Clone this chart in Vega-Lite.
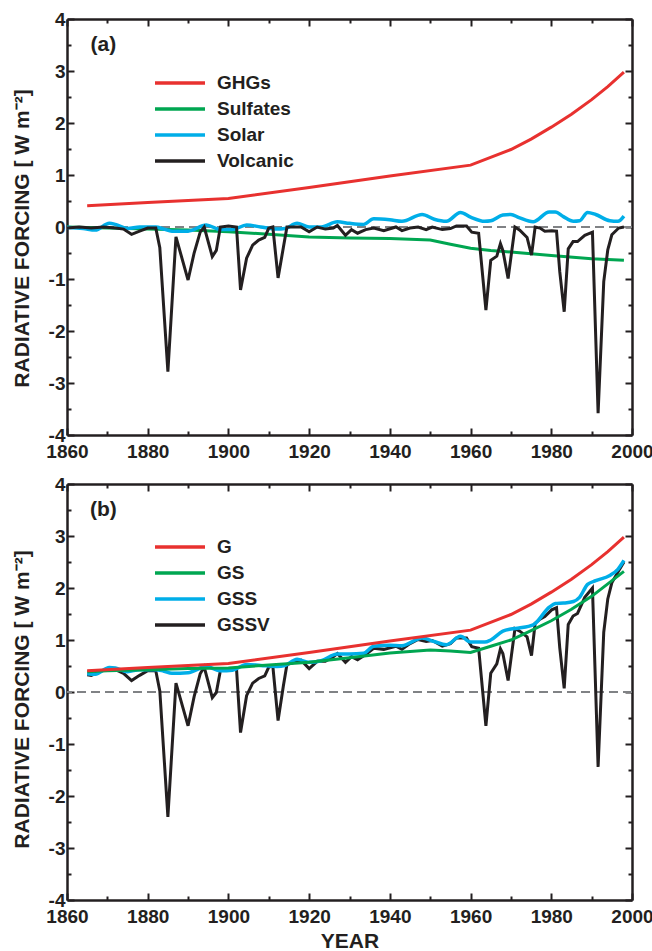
{
  "$schema": "https://vega.github.io/schema/vega-lite/v6.json",
  "padding": {"left": 11, "top": 10, "right": 5, "bottom": 5},
  "background": "white",
  "bounds": "flush",
  "spacing": 49,
  "config": {
    "view": {"stroke": null},
    "axis": {
      "domainColor": "#231f20", "domainWidth": 2.5, "tickColor": "#231f20", "tickWidth": 2,
      "labelFont": "Liberation Sans", "labelFontWeight": "bold", "labelFontSize": 19, "labelColor": "#231f20",
      "titleFont": "Liberation Sans", "titleFontWeight": "bold", "titleFontSize": 21, "titleColor": "#231f20",
      "grid": false, "labelOverlap": false, "labelBound": false, "labelFlush": false
    },
    "legend": {
      "labelFont": "Liberation Sans", "labelFontWeight": "bold", "labelFontSize": 19, "labelColor": "#231f20",
      "symbolType": "M-2.5,0L2.5,0", "symbolSize": 400, "symbolStrokeWidth": 3.5, "labelOffset": 25, "rowPadding": 4, "padding": 0
    },
    "text": {"font": "Liberation Sans", "fontWeight": "bold", "color": "#231f20"}
  },
  "resolve": {"scale": {"color": "independent"}, "legend": {"color": "independent"}},
  "datasets": {
    "ghg": [
      {"year": 1865, "value": 0.41, "series": "GHGs"}, {"year": 1880, "value": 0.47, "series": "GHGs"},
      {"year": 1900, "value": 0.55, "series": "GHGs"}, {"year": 1920, "value": 0.76, "series": "GHGs"},
      {"year": 1940, "value": 0.98, "series": "GHGs"}, {"year": 1960, "value": 1.19, "series": "GHGs"},
      {"year": 1970, "value": 1.49, "series": "GHGs"}, {"year": 1975, "value": 1.69, "series": "GHGs"},
      {"year": 1980, "value": 1.92, "series": "GHGs"}, {"year": 1985, "value": 2.17, "series": "GHGs"},
      {"year": 1990, "value": 2.45, "series": "GHGs"}, {"year": 1994, "value": 2.70, "series": "GHGs"},
      {"year": 1998, "value": 2.98, "series": "GHGs"}
    ],
    "sul": [
      {"year": 1860, "value": 0.0, "series": "Sulfates"}, {"year": 1870, "value": -0.02, "series": "Sulfates"},
      {"year": 1880, "value": -0.04, "series": "Sulfates"}, {"year": 1890, "value": -0.06, "series": "Sulfates"},
      {"year": 1900, "value": -0.09, "series": "Sulfates"}, {"year": 1910, "value": -0.14, "series": "Sulfates"},
      {"year": 1920, "value": -0.19, "series": "Sulfates"}, {"year": 1930, "value": -0.21, "series": "Sulfates"},
      {"year": 1940, "value": -0.22, "series": "Sulfates"}, {"year": 1950, "value": -0.25, "series": "Sulfates"},
      {"year": 1955, "value": -0.33, "series": "Sulfates"}, {"year": 1960, "value": -0.41, "series": "Sulfates"},
      {"year": 1965, "value": -0.45, "series": "Sulfates"}, {"year": 1970, "value": -0.48, "series": "Sulfates"},
      {"year": 1980, "value": -0.55, "series": "Sulfates"}, {"year": 1990, "value": -0.61, "series": "Sulfates"},
      {"year": 1998, "value": -0.64, "series": "Sulfates"}
    ],
    "sol": [
      {"year": 1860, "value": -0.01, "series": "Solar"}, {"year": 1864, "value": -0.03, "series": "Solar"},
      {"year": 1867, "value": -0.06, "series": "Solar"}, {"year": 1870.5, "value": 0.07, "series": "Solar"},
      {"year": 1872, "value": 0.05, "series": "Solar"}, {"year": 1875, "value": -0.03, "series": "Solar"},
      {"year": 1878, "value": 0.0, "series": "Solar"}, {"year": 1880, "value": 0.0, "series": "Solar"},
      {"year": 1882, "value": 0.0, "series": "Solar"}, {"year": 1884, "value": -0.04, "series": "Solar"},
      {"year": 1886, "value": -0.08, "series": "Solar"}, {"year": 1890, "value": -0.08, "series": "Solar"},
      {"year": 1894.5, "value": 0.04, "series": "Solar"}, {"year": 1898, "value": -0.05, "series": "Solar"},
      {"year": 1901, "value": -0.05, "series": "Solar"}, {"year": 1904.5, "value": 0.04, "series": "Solar"},
      {"year": 1908, "value": 0.0, "series": "Solar"}, {"year": 1912, "value": -0.04, "series": "Solar"},
      {"year": 1914, "value": -0.03, "series": "Solar"}, {"year": 1917, "value": 0.07, "series": "Solar"},
      {"year": 1920, "value": 0.0, "series": "Solar"}, {"year": 1923, "value": 0.0, "series": "Solar"},
      {"year": 1927, "value": 0.1, "series": "Solar"}, {"year": 1930, "value": 0.07, "series": "Solar"},
      {"year": 1933.5, "value": 0.05, "series": "Solar"}, {"year": 1936, "value": 0.16, "series": "Solar"},
      {"year": 1940, "value": 0.14, "series": "Solar"}, {"year": 1943, "value": 0.11, "series": "Solar"},
      {"year": 1948, "value": 0.24, "series": "Solar"}, {"year": 1951, "value": 0.15, "series": "Solar"},
      {"year": 1954, "value": 0.11, "series": "Solar"}, {"year": 1957.5, "value": 0.28, "series": "Solar"},
      {"year": 1960, "value": 0.19, "series": "Solar"}, {"year": 1963.5, "value": 0.11, "series": "Solar"},
      {"year": 1965, "value": 0.12, "series": "Solar"}, {"year": 1968, "value": 0.23, "series": "Solar"},
      {"year": 1970, "value": 0.24, "series": "Solar"}, {"year": 1972, "value": 0.18, "series": "Solar"},
      {"year": 1975.5, "value": 0.10, "series": "Solar"}, {"year": 1979.5, "value": 0.29, "series": "Solar"},
      {"year": 1981, "value": 0.29, "series": "Solar"}, {"year": 1983, "value": 0.20, "series": "Solar"},
      {"year": 1985.5, "value": 0.11, "series": "Solar"}, {"year": 1987, "value": 0.12, "series": "Solar"},
      {"year": 1989, "value": 0.28, "series": "Solar"}, {"year": 1991, "value": 0.24, "series": "Solar"},
      {"year": 1994.5, "value": 0.12, "series": "Solar"}, {"year": 1996.5, "value": 0.11, "series": "Solar"},
      {"year": 1998, "value": 0.21, "series": "Solar"}
    ],
    "vol": [
      {"year": 1860, "value": -0.02, "series": "Volcanic"}, {"year": 1863, "value": 0, "series": "Volcanic"},
      {"year": 1866, "value": -0.02, "series": "Volcanic"}, {"year": 1869, "value": 0, "series": "Volcanic"},
      {"year": 1872, "value": -0.02, "series": "Volcanic"}, {"year": 1874, "value": -0.04, "series": "Volcanic"},
      {"year": 1876, "value": -0.14, "series": "Volcanic"}, {"year": 1878, "value": -0.08, "series": "Volcanic"},
      {"year": 1880, "value": -0.02, "series": "Volcanic"}, {"year": 1882, "value": -0.02, "series": "Volcanic"},
      {"year": 1883, "value": -0.4, "series": "Volcanic"}, {"year": 1885, "value": -2.78, "series": "Volcanic"},
      {"year": 1887, "value": -0.19, "series": "Volcanic"}, {"year": 1890, "value": -1.02, "series": "Volcanic"},
      {"year": 1891.5, "value": -0.5, "series": "Volcanic"}, {"year": 1893, "value": -0.1, "series": "Volcanic"},
      {"year": 1894, "value": 0, "series": "Volcanic"}, {"year": 1896, "value": -0.57, "series": "Volcanic"},
      {"year": 1897, "value": -0.45, "series": "Volcanic"}, {"year": 1898, "value": 0, "series": "Volcanic"},
      {"year": 1900, "value": 0.02, "series": "Volcanic"}, {"year": 1902, "value": 0, "series": "Volcanic"},
      {"year": 1903, "value": -1.21, "series": "Volcanic"}, {"year": 1904.5, "value": -0.6, "series": "Volcanic"},
      {"year": 1906, "value": -0.35, "series": "Volcanic"}, {"year": 1907.5, "value": -0.25, "series": "Volcanic"},
      {"year": 1909, "value": -0.2, "series": "Volcanic"}, {"year": 1910, "value": -0.02, "series": "Volcanic"},
      {"year": 1911, "value": 0, "series": "Volcanic"}, {"year": 1912.3, "value": -0.98, "series": "Volcanic"},
      {"year": 1913.6, "value": -0.4, "series": "Volcanic"}, {"year": 1914.5, "value": 0, "series": "Volcanic"},
      {"year": 1918, "value": 0, "series": "Volcanic"}, {"year": 1920, "value": -0.09, "series": "Volcanic"},
      {"year": 1922, "value": 0, "series": "Volcanic"}, {"year": 1924, "value": -0.04, "series": "Volcanic"},
      {"year": 1926, "value": -0.02, "series": "Volcanic"}, {"year": 1927, "value": 0.03, "series": "Volcanic"},
      {"year": 1929, "value": -0.16, "series": "Volcanic"}, {"year": 1930.5, "value": -0.05, "series": "Volcanic"},
      {"year": 1932, "value": -0.12, "series": "Volcanic"}, {"year": 1934, "value": -0.05, "series": "Volcanic"},
      {"year": 1936, "value": -0.02, "series": "Volcanic"}, {"year": 1938.5, "value": -0.07, "series": "Volcanic"},
      {"year": 1941.5, "value": 0, "series": "Volcanic"}, {"year": 1943, "value": -0.07, "series": "Volcanic"},
      {"year": 1945, "value": -0.02, "series": "Volcanic"}, {"year": 1947, "value": 0, "series": "Volcanic"},
      {"year": 1949, "value": -0.05, "series": "Volcanic"}, {"year": 1950.5, "value": 0, "series": "Volcanic"},
      {"year": 1953, "value": -0.05, "series": "Volcanic"}, {"year": 1955, "value": -0.03, "series": "Volcanic"},
      {"year": 1956.5, "value": 0.02, "series": "Volcanic"}, {"year": 1959, "value": 0.02, "series": "Volcanic"},
      {"year": 1960.3, "value": -0.1, "series": "Volcanic"}, {"year": 1962, "value": -0.12, "series": "Volcanic"},
      {"year": 1963.8, "value": -1.6, "series": "Volcanic"}, {"year": 1965, "value": -0.64, "series": "Volcanic"},
      {"year": 1966.5, "value": -0.56, "series": "Volcanic"}, {"year": 1967.4, "value": -0.32, "series": "Volcanic"},
      {"year": 1968, "value": -0.45, "series": "Volcanic"}, {"year": 1969.3, "value": -0.99, "series": "Volcanic"},
      {"year": 1971, "value": 0, "series": "Volcanic"}, {"year": 1972.2, "value": -0.06, "series": "Volcanic"},
      {"year": 1974, "value": -0.2, "series": "Volcanic"}, {"year": 1975.1, "value": -0.54, "series": "Volcanic"},
      {"year": 1976, "value": 0, "series": "Volcanic"}, {"year": 1977.2, "value": -0.02, "series": "Volcanic"},
      {"year": 1978.4, "value": -0.08, "series": "Volcanic"}, {"year": 1980.1, "value": -0.07, "series": "Volcanic"},
      {"year": 1981.3, "value": -0.08, "series": "Volcanic"}, {"year": 1982.1, "value": -0.86, "series": "Volcanic"},
      {"year": 1983.2, "value": -1.63, "series": "Volcanic"}, {"year": 1984.2, "value": -0.42, "series": "Volcanic"},
      {"year": 1985.4, "value": -0.28, "series": "Volcanic"}, {"year": 1986.5, "value": -0.28, "series": "Volcanic"},
      {"year": 1988.3, "value": -0.16, "series": "Volcanic"}, {"year": 1990.2, "value": -0.1, "series": "Volcanic"},
      {"year": 1991.6, "value": -3.58, "series": "Volcanic"}, {"year": 1993, "value": -1.05, "series": "Volcanic"},
      {"year": 1994, "value": -0.44, "series": "Volcanic"}, {"year": 1995, "value": -0.15, "series": "Volcanic"},
      {"year": 1996.7, "value": -0.02, "series": "Volcanic"}, {"year": 1998, "value": 0, "series": "Volcanic"}
    ],
    "g": [
      {"year": 1865, "value": 0.41, "series": "G"}, {"year": 1880, "value": 0.47, "series": "G"},
      {"year": 1900, "value": 0.55, "series": "G"}, {"year": 1920, "value": 0.76, "series": "G"},
      {"year": 1940, "value": 0.98, "series": "G"}, {"year": 1960, "value": 1.19, "series": "G"},
      {"year": 1970, "value": 1.49, "series": "G"}, {"year": 1975, "value": 1.69, "series": "G"},
      {"year": 1980, "value": 1.92, "series": "G"}, {"year": 1985, "value": 2.17, "series": "G"},
      {"year": 1990, "value": 2.45, "series": "G"}, {"year": 1994, "value": 2.70, "series": "G"},
      {"year": 1998, "value": 2.98, "series": "G"}
    ],
    "gs": [
      {"year": 1865, "value": 0.39, "series": "GS"}, {"year": 1870, "value": 0.41, "series": "GS"},
      {"year": 1880, "value": 0.43, "series": "GS"}, {"year": 1890, "value": 0.45, "series": "GS"},
      {"year": 1900, "value": 0.46, "series": "GS"}, {"year": 1910, "value": 0.52, "series": "GS"},
      {"year": 1920, "value": 0.57, "series": "GS"}, {"year": 1930, "value": 0.66, "series": "GS"},
      {"year": 1940, "value": 0.75, "series": "GS"}, {"year": 1950, "value": 0.81, "series": "GS"},
      {"year": 1955, "value": 0.79, "series": "GS"}, {"year": 1960, "value": 0.76, "series": "GS"},
      {"year": 1965, "value": 0.88, "series": "GS"}, {"year": 1970, "value": 1.00, "series": "GS"},
      {"year": 1975, "value": 1.18, "series": "GS"}, {"year": 1980, "value": 1.37, "series": "GS"},
      {"year": 1985, "value": 1.59, "series": "GS"}, {"year": 1990, "value": 1.84, "series": "GS"},
      {"year": 1994, "value": 2.08, "series": "GS"}, {"year": 1998, "value": 2.32, "series": "GS"}
    ],
    "gss": [
      {"year": 1865, "value": 0.35, "series": "GSS"}, {"year": 1867, "value": 0.34, "series": "GSS"},
      {"year": 1870.5, "value": 0.47, "series": "GSS"}, {"year": 1872, "value": 0.46, "series": "GSS"},
      {"year": 1875, "value": 0.39, "series": "GSS"}, {"year": 1878, "value": 0.43, "series": "GSS"},
      {"year": 1880, "value": 0.43, "series": "GSS"}, {"year": 1882, "value": 0.43, "series": "GSS"},
      {"year": 1884, "value": 0.40, "series": "GSS"}, {"year": 1886, "value": 0.36, "series": "GSS"},
      {"year": 1890, "value": 0.37, "series": "GSS"}, {"year": 1894.5, "value": 0.49, "series": "GSS"},
      {"year": 1898, "value": 0.41, "series": "GSS"}, {"year": 1901, "value": 0.42, "series": "GSS"},
      {"year": 1904.5, "value": 0.53, "series": "GSS"}, {"year": 1908, "value": 0.51, "series": "GSS"},
      {"year": 1912, "value": 0.49, "series": "GSS"}, {"year": 1914, "value": 0.51, "series": "GSS"},
      {"year": 1917, "value": 0.63, "series": "GSS"}, {"year": 1920, "value": 0.57, "series": "GSS"},
      {"year": 1923, "value": 0.60, "series": "GSS"}, {"year": 1927, "value": 0.73, "series": "GSS"},
      {"year": 1930, "value": 0.73, "series": "GSS"}, {"year": 1933.5, "value": 0.745, "series": "GSS"},
      {"year": 1936, "value": 0.88, "series": "GSS"}, {"year": 1940, "value": 0.90, "series": "GSS"},
      {"year": 1943, "value": 0.89, "series": "GSS"}, {"year": 1948, "value": 1.04, "series": "GSS"},
      {"year": 1951, "value": 0.97, "series": "GSS"}, {"year": 1954, "value": 0.91, "series": "GSS"},
      {"year": 1957.5, "value": 1.07, "series": "GSS"}, {"year": 1960, "value": 0.96, "series": "GSS"},
      {"year": 1963.5, "value": 0.96, "series": "GSS"}, {"year": 1965, "value": 1.00, "series": "GSS"},
      {"year": 1968, "value": 1.17, "series": "GSS"}, {"year": 1970, "value": 1.21, "series": "GSS"},
      {"year": 1972, "value": 1.23, "series": "GSS"}, {"year": 1975.5, "value": 1.29, "series": "GSS"},
      {"year": 1979.5, "value": 1.63, "series": "GSS"}, {"year": 1981, "value": 1.70, "series": "GSS"},
      {"year": 1983, "value": 1.71, "series": "GSS"}, {"year": 1985.5, "value": 1.74, "series": "GSS"},
      {"year": 1987, "value": 1.82, "series": "GSS"}, {"year": 1989, "value": 2.07, "series": "GSS"},
      {"year": 1991, "value": 2.14, "series": "GSS"}, {"year": 1994.5, "value": 2.24, "series": "GSS"},
      {"year": 1996.5, "value": 2.36, "series": "GSS"}, {"year": 1998, "value": 2.53, "series": "GSS"}
    ],
    "gssv": [
      {"year": 1865, "value": 0.33, "series": "GSSV"}, {"year": 1866, "value": 0.32, "series": "GSSV"},
      {"year": 1869, "value": 0.42, "series": "GSSV"}, {"year": 1872, "value": 0.43, "series": "GSSV"},
      {"year": 1874, "value": 0.36, "series": "GSSV"}, {"year": 1876, "value": 0.22, "series": "GSSV"},
      {"year": 1878, "value": 0.32, "series": "GSSV"}, {"year": 1880, "value": 0.41, "series": "GSSV"},
      {"year": 1882, "value": 0.41, "series": "GSSV"}, {"year": 1883, "value": 0.02, "series": "GSSV"},
      {"year": 1885, "value": -2.40, "series": "GSSV"}, {"year": 1887, "value": 0.17, "series": "GSSV"},
      {"year": 1890, "value": -0.65, "series": "GSSV"}, {"year": 1891.5, "value": -0.09, "series": "GSSV"},
      {"year": 1893, "value": 0.35, "series": "GSSV"}, {"year": 1894, "value": 0.48, "series": "GSSV"},
      {"year": 1896, "value": -0.11, "series": "GSSV"}, {"year": 1897, "value": -0.01, "series": "GSSV"},
      {"year": 1898, "value": 0.41, "series": "GSSV"}, {"year": 1900, "value": 0.44, "series": "GSSV"},
      {"year": 1902, "value": 0.45, "series": "GSSV"}, {"year": 1903, "value": -0.78, "series": "GSSV"},
      {"year": 1904.5, "value": -0.07, "series": "GSSV"}, {"year": 1906, "value": 0.17, "series": "GSSV"},
      {"year": 1907.5, "value": 0.26, "series": "GSSV"}, {"year": 1909, "value": 0.31, "series": "GSSV"},
      {"year": 1910, "value": 0.48, "series": "GSSV"}, {"year": 1911, "value": 0.5, "series": "GSSV"},
      {"year": 1912.3, "value": -0.55, "series": "GSSV"}, {"year": 1913.6, "value": 0.11, "series": "GSSV"},
      {"year": 1914.5, "value": 0.53, "series": "GSSV"}, {"year": 1918, "value": 0.61, "series": "GSSV"},
      {"year": 1920, "value": 0.45, "series": "GSSV"}, {"year": 1922, "value": 0.59, "series": "GSSV"},
      {"year": 1924, "value": 0.59, "series": "GSSV"}, {"year": 1926, "value": 0.68, "series": "GSSV"},
      {"year": 1927, "value": 0.74, "series": "GSSV"}, {"year": 1929, "value": 0.57, "series": "GSSV"},
      {"year": 1930.5, "value": 0.68, "series": "GSSV"}, {"year": 1932, "value": 0.62, "series": "GSSV"},
      {"year": 1934, "value": 0.72, "series": "GSSV"}, {"year": 1936, "value": 0.84, "series": "GSSV"},
      {"year": 1938.5, "value": 0.82, "series": "GSSV"}, {"year": 1941.5, "value": 0.88, "series": "GSSV"},
      {"year": 1943, "value": 0.82, "series": "GSSV"}, {"year": 1945, "value": 0.93, "series": "GSSV"},
      {"year": 1947, "value": 1.01, "series": "GSSV"}, {"year": 1949, "value": 0.97, "series": "GSSV"},
      {"year": 1950.5, "value": 0.99, "series": "GSSV"}, {"year": 1953, "value": 0.88, "series": "GSSV"},
      {"year": 1955, "value": 0.93, "series": "GSSV"}, {"year": 1956.5, "value": 1.04, "series": "GSSV"},
      {"year": 1959, "value": 1.04, "series": "GSSV"}, {"year": 1960.3, "value": 0.87, "series": "GSSV"},
      {"year": 1962, "value": 0.84, "series": "GSSV"}, {"year": 1963.8, "value": -0.65, "series": "GSSV"},
      {"year": 1965, "value": 0.36, "series": "GSSV"}, {"year": 1966.5, "value": 0.54, "series": "GSSV"},
      {"year": 1967.4, "value": 0.83, "series": "GSSV"}, {"year": 1968, "value": 0.74, "series": "GSSV"},
      {"year": 1969.3, "value": 0.22, "series": "GSSV"}, {"year": 1971, "value": 1.22, "series": "GSSV"},
      {"year": 1972.2, "value": 1.17, "series": "GSSV"}, {"year": 1974, "value": 1.06, "series": "GSSV"},
      {"year": 1975.1, "value": 0.70, "series": "GSSV"}, {"year": 1976, "value": 1.32, "series": "GSSV"},
      {"year": 1977.2, "value": 1.40, "series": "GSSV"}, {"year": 1978.4, "value": 1.45, "series": "GSSV"},
      {"year": 1980.1, "value": 1.58, "series": "GSSV"}, {"year": 1981.3, "value": 1.62, "series": "GSSV"},
      {"year": 1982.1, "value": 0.85, "series": "GSSV"}, {"year": 1983.2, "value": 0.07, "series": "GSSV"},
      {"year": 1984.2, "value": 1.30, "series": "GSSV"}, {"year": 1985.4, "value": 1.46, "series": "GSSV"},
      {"year": 1986.5, "value": 1.51, "series": "GSSV"}, {"year": 1988.3, "value": 1.82, "series": "GSSV"},
      {"year": 1990.2, "value": 2.0, "series": "GSSV"}, {"year": 1991.6, "value": -1.44, "series": "GSSV"},
      {"year": 1993, "value": 1.15, "series": "GSSV"}, {"year": 1994, "value": 1.79, "series": "GSSV"},
      {"year": 1995, "value": 2.10, "series": "GSSV"}, {"year": 1996.7, "value": 2.33, "series": "GSSV"},
      {"year": 1998, "value": 2.50, "series": "GSSV"}
    ]
  },
  "vconcat": [
    {
      "width": 565, "height": 416,
      "resolve": {"axis": {"x": "independent", "y": "independent"}},
      "layer": [
        {
          "data": {"values": [{}]},
          "mark": {"type": "rule", "color": "#808285", "strokeWidth": 2, "strokeDash": [9, 5]},
          "encoding": {"y": {"datum": 0, "type": "quantitative", "scale": {"domain": [-4, 4], "nice": false}, "axis": null}}
        },
        {
          "data": {"name": "sul"},
          "mark": {"type": "line", "strokeWidth": 3},
          "encoding": {
            "x": {"field": "year", "type": "quantitative", "scale": {"domain": [1860, 2000], "nice": false, "zero": false},
              "axis": {"orient": "bottom", "title": null, "values": [1860,1870,1880,1890,1900,1910,1920,1930,1940,1950,1960,1970,1980,1990,2000],
                "labelExpr": "datum.value % 20 === 0 ? '' + datum.value : ''",
                "tickSize": {"condition": {"test": "datum.value % 20 === 0", "value": -7}, "value": -4}, "labelPadding": 14}},
            "y": {"field": "value", "type": "quantitative", "scale": {"domain": [-4, 4], "nice": false},
              "axis": {"orient": "left", "title": "RADIATIVE FORCING [ W m⁻²]", "values": [-4,-3.5,-3,-2.5,-2,-1.5,-1,-0.5,0,0.5,1,1.5,2,2.5,3,3.5,4],
                "labelExpr": "datum.value % 1 === 0 ? '' + datum.value : ''",
                "tickSize": {"condition": {"test": "datum.value % 1 === 0", "value": -7}, "value": -4}, "labelPadding": 9,
                "titleX": -45, "titleY": 219, "titleAlign": "center", "titleBaseline": "middle", "titleAngle": -90}},
            "color": {"field": "series", "type": "nominal",
              "scale": {"domain": ["GHGs", "Sulfates", "Solar", "Volcanic"], "range": ["#e8312f", "#00a651", "#00aee8", "#231f20"]},
              "legend": {"title": null, "orient": "none", "legendX": 101, "legendY": 52}}
          }
        },
        {
          "data": {"name": "sol"},
          "mark": {"type": "line", "strokeWidth": 3.5, "interpolate": "monotone"},
          "encoding": {
            "x": {"field": "year", "type": "quantitative",
              "axis": {"orient": "top", "title": null, "labels": false, "values": [1860,1870,1880,1890,1900,1910,1920,1930,1940,1950,1960,1970,1980,1990,2000],
                "tickSize": {"condition": {"test": "datum.value % 20 === 0", "value": -7}, "value": -4}}},
            "y": {"field": "value", "type": "quantitative",
              "axis": {"orient": "right", "title": null, "labels": false, "values": [-4,-3.5,-3,-2.5,-2,-1.5,-1,-0.5,0,0.5,1,1.5,2,2.5,3,3.5,4],
                "tickSize": {"condition": {"test": "datum.value % 1 === 0", "value": -7}, "value": -4}}},
            "color": {"field": "series", "type": "nominal"}
          }
        },
        {
          "data": {"name": "vol"},
          "mark": {"type": "line", "strokeWidth": 3},
          "encoding": {
            "x": {"field": "year", "type": "quantitative", "axis": null},
            "y": {"field": "value", "type": "quantitative", "axis": null},
            "color": {"field": "series", "type": "nominal"}
          }
        },
        {
          "data": {"name": "ghg"},
          "mark": {"type": "line", "strokeWidth": 3},
          "encoding": {
            "x": {"field": "year", "type": "quantitative", "axis": null},
            "y": {"field": "value", "type": "quantitative", "axis": null},
            "color": {"field": "series", "type": "nominal"}
          }
        },
        {
          "data": {"values": [{}]},
          "mark": {"type": "text", "text": "(a)", "fontSize": 21, "align": "center", "baseline": "middle"},
          "encoding": {"x": {"datum": 1869, "type": "quantitative", "axis": null}, "y": {"datum": 3.5, "type": "quantitative", "axis": null}}
        }
      ]
    },
    {
      "width": 565, "height": 416,
      "resolve": {"axis": {"x": "independent", "y": "independent"}},
      "layer": [
        {
          "data": {"values": [{}]},
          "mark": {"type": "rule", "color": "#808285", "strokeWidth": 2, "strokeDash": [9, 5]},
          "encoding": {"y": {"datum": 0, "type": "quantitative", "scale": {"domain": [-4, 4], "nice": false}, "axis": null}}
        },
        {
          "data": {"name": "gssv"},
          "mark": {"type": "line", "strokeWidth": 3},
          "encoding": {
            "x": {"field": "year", "type": "quantitative", "scale": {"domain": [1860, 2000], "nice": false, "zero": false},
              "axis": {"orient": "bottom", "title": "YEAR", "values": [1860,1870,1880,1890,1900,1910,1920,1930,1940,1950,1960,1970,1980,1990,2000],
                "labelExpr": "datum.value % 20 === 0 ? '' + datum.value : ''",
                "tickSize": {"condition": {"test": "datum.value % 20 === 0", "value": -7}, "value": -4}, "labelPadding": 14,
                "titleY": 41, "titleBaseline": "middle"}},
            "y": {"field": "value", "type": "quantitative", "scale": {"domain": [-4, 4], "nice": false},
              "axis": {"orient": "left", "title": "RADIATIVE FORCING [ W m⁻²]", "values": [-4,-3.5,-3,-2.5,-2,-1.5,-1,-0.5,0,0.5,1,1.5,2,2.5,3,3.5,4],
                "labelExpr": "datum.value % 1 === 0 ? '' + datum.value : ''",
                "tickSize": {"condition": {"test": "datum.value % 1 === 0", "value": -7}, "value": -4}, "labelPadding": 9,
                "titleX": -45, "titleY": 215, "titleAlign": "center", "titleBaseline": "middle", "titleAngle": -90}},
            "color": {"field": "series", "type": "nominal",
              "scale": {"domain": ["G", "GS", "GSS", "GSSV"], "range": ["#e8312f", "#00a651", "#00aee8", "#231f20"]},
              "legend": {"title": null, "orient": "none", "legendX": 101, "legendY": 51}}
          }
        },
        {
          "data": {"name": "gss"},
          "mark": {"type": "line", "strokeWidth": 3.5, "interpolate": "monotone"},
          "encoding": {
            "x": {"field": "year", "type": "quantitative",
              "axis": {"orient": "top", "title": null, "labels": false, "values": [1860,1870,1880,1890,1900,1910,1920,1930,1940,1950,1960,1970,1980,1990,2000],
                "tickSize": {"condition": {"test": "datum.value % 20 === 0", "value": -7}, "value": -4}}},
            "y": {"field": "value", "type": "quantitative",
              "axis": {"orient": "right", "title": null, "labels": false, "values": [-4,-3.5,-3,-2.5,-2,-1.5,-1,-0.5,0,0.5,1,1.5,2,2.5,3,3.5,4],
                "tickSize": {"condition": {"test": "datum.value % 1 === 0", "value": -7}, "value": -4}}},
            "color": {"field": "series", "type": "nominal"}
          }
        },
        {
          "data": {"name": "gs"},
          "mark": {"type": "line", "strokeWidth": 3},
          "encoding": {
            "x": {"field": "year", "type": "quantitative", "axis": null},
            "y": {"field": "value", "type": "quantitative", "axis": null},
            "color": {"field": "series", "type": "nominal"}
          }
        },
        {
          "data": {"name": "g"},
          "mark": {"type": "line", "strokeWidth": 3},
          "encoding": {
            "x": {"field": "year", "type": "quantitative", "axis": null},
            "y": {"field": "value", "type": "quantitative", "axis": null},
            "color": {"field": "series", "type": "nominal"}
          }
        },
        {
          "data": {"values": [{}]},
          "mark": {"type": "text", "text": "(b)", "fontSize": 21, "align": "center", "baseline": "middle"},
          "encoding": {"x": {"datum": 1869, "type": "quantitative", "axis": null}, "y": {"datum": 3.5, "type": "quantitative", "axis": null}}
        }
      ]
    }
  ]
}
